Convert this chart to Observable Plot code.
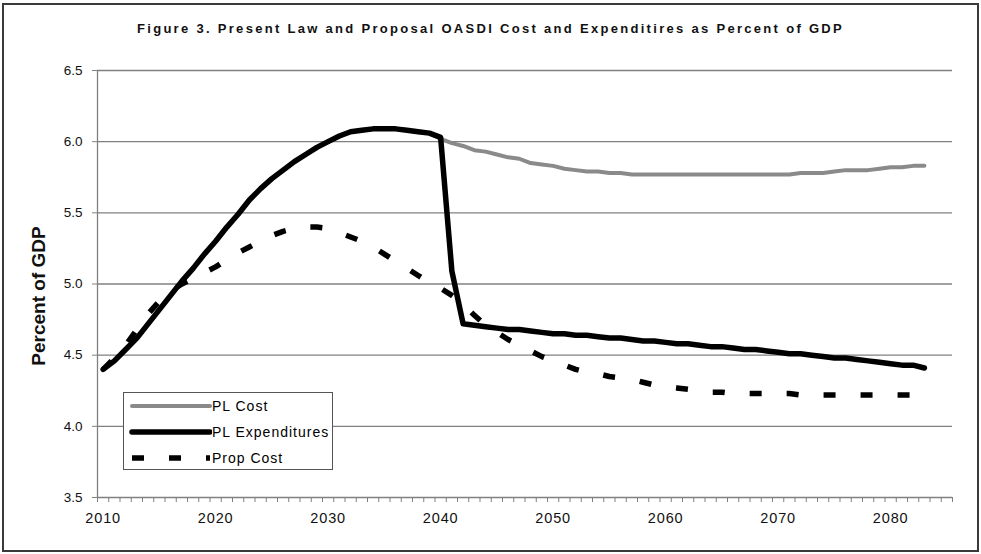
<!DOCTYPE html>
<html>
<head>
<meta charset="utf-8">
<script src="https://cdn.jsdelivr.net/npm/d3@7"></script>
<script src="https://cdn.jsdelivr.net/npm/@observablehq/plot@0.6"></script>
<style>
  body { margin: 0; background: #fff; font-family: Arial, "Liberation Sans", sans-serif; }
  #wrap { position: relative; width: 981px; height: 554px; overflow: hidden; background: #fff; }
  #frame { position: absolute; left: 2px; top: 3px; width: 973px; height: 545px; border: 2px solid #3a3a3a; }
  #title { position: absolute; left: 0; top: 0; width: 981px; height: 50px; text-align: center;
           font-weight: bold; font-size: 13px; letter-spacing: 2.3px; color: #111; line-height: 57px; white-space: nowrap; }
  #chart { position: absolute; left: 0; top: 50px; }
  #chart g[aria-label="x-axis tick label"] { letter-spacing: 0.9px; }
  #legend { position: absolute; left: 123px; top: 392px; width: 208px; height: 76px; border: 1px solid #555; background: #fff; }
  .lrow { position: absolute; left: 0; height: 18px; display: flex; align-items: center; font-size: 14px; letter-spacing: 1px; color: #000; white-space: nowrap; }
  .lrow svg { display: block; }
</style>
</head>
<body>
<div id="wrap">
  <div id="frame"></div>
  <div id="title"></div>
  <div id="chart"></div>
  <div id="legend"></div>
</div>
<script>
const titleText = "Figure 3. Present Law and Proposal OASDI Cost and Expenditires as Percent of GDP";
const yLabel = "Percent of GDP";
const seriesNames = ["PL Cost", "PL Expenditures", "Prop Cost"];

const years = d3.range(2010, 2084);

const plExpenditures = [
  4.40, 4.46, 4.54, 4.62, 4.72, 4.82, 4.92, 5.02, 5.11, 5.21,
  5.30, 5.40, 5.49, 5.59, 5.67, 5.74, 5.80, 5.86, 5.91, 5.96,
  6.00, 6.04, 6.07, 6.08, 6.09, 6.09, 6.09, 6.08, 6.07, 6.06,
  6.03, 5.09, 4.72, 4.71, 4.70, 4.69, 4.68, 4.68, 4.67, 4.66,
  4.65, 4.65, 4.64, 4.64, 4.63, 4.62, 4.62, 4.61, 4.60, 4.60,
  4.59, 4.58, 4.58, 4.57, 4.56, 4.56, 4.55, 4.54, 4.54, 4.53,
  4.52, 4.51, 4.51, 4.50, 4.49, 4.48, 4.48, 4.47, 4.46, 4.45,
  4.44, 4.43, 4.43, 4.41
];

const plCost = [
  4.40, 4.46, 4.54, 4.62, 4.72, 4.82, 4.92, 5.02, 5.11, 5.21,
  5.30, 5.40, 5.49, 5.59, 5.67, 5.74, 5.80, 5.86, 5.91, 5.96,
  6.00, 6.04, 6.07, 6.08, 6.09, 6.09, 6.09, 6.08, 6.07, 6.06,
  6.02, 5.99, 5.97, 5.94, 5.93, 5.91, 5.89, 5.88, 5.85, 5.84,
  5.83, 5.81, 5.80, 5.79, 5.79, 5.78, 5.78, 5.77, 5.77, 5.77,
  5.77, 5.77, 5.77, 5.77, 5.77, 5.77, 5.77, 5.77, 5.77, 5.77,
  5.77, 5.77, 5.78, 5.78, 5.78, 5.79, 5.80, 5.80, 5.80, 5.81,
  5.82, 5.82, 5.83, 5.83
];

const propCost = [
  4.40, 4.48, 4.57, 4.68, 4.79, 4.88, 4.95, 5.00, 5.04, 5.08,
  5.12, 5.17, 5.22, 5.26, 5.30, 5.34, 5.37, 5.39, 5.40, 5.40,
  5.39, 5.36, 5.33, 5.30, 5.26, 5.21, 5.16, 5.11, 5.06, 5.01,
  4.97, 4.92, 4.86, 4.78, 4.71, 4.66, 4.61, 4.57, 4.53, 4.49,
  4.46, 4.43, 4.40, 4.38, 4.37, 4.35, 4.34, 4.33, 4.31, 4.29,
  4.28, 4.27, 4.26, 4.25, 4.24, 4.24, 4.23, 4.23, 4.23, 4.23,
  4.23, 4.23, 4.22, 4.22, 4.22, 4.22, 4.22, 4.22, 4.22, 4.22,
  4.22, 4.22, 4.22, 4.23
];

const yTicks = [3.5, 4.0, 4.5, 5.0, 5.5, 6.0, 6.5];
const xLabelYears = [2010, 2020, 2030, 2040, 2050, 2060, 2070, 2080];
const xTickMarks = d3.range(2009.5, 2086, 1);

const toRows = (vals) => years.map((yr, i) => ({ year: yr, value: vals[i] }));

document.getElementById("title").textContent = titleText;

const gray = "#808080";
const chart = Plot.plot({
  width: 981,
  height: 504,
  marginTop: 20,
  marginBottom: 57,
  marginLeft: 97,
  marginRight: 29,
  style: { fontFamily: 'Arial, "Liberation Sans", sans-serif', fontSize: "13px", color: "#111", background: "transparent", overflow: "visible" },
  x: { domain: [2009.5, 2085.5] },
  y: { domain: [3.5, 6.5] },
  marks: [
    Plot.gridY(yTicks, { stroke: gray, strokeOpacity: 1, strokeWidth: 1.3 }),
    Plot.ruleX([2009.5], { stroke: gray, strokeWidth: 1.3 }),
    Plot.axisY(yTicks, { tickFormat: d => d.toFixed(1), tickSize: 5, tickPadding: 10, stroke: gray, fontSize: 13.5, label: null }),
    Plot.axisX(xTickMarks, { tickSize: 5, tickFormat: () => "", stroke: gray, label: null }),
    Plot.axisX(xLabelYears, { tickSize: 0, tickPadding: 15, tickFormat: d => String(d), label: null, fontSize: 14.5 }),
    Plot.text([yLabel], { frameAnchor: "left", textAnchor: "middle", lineAnchor: "middle", rotate: -90, dx: -59, dy: 12, fontWeight: "bold", fontSize: 19, fill: "#111" }),
    Plot.line(toRows(plCost), { x: "year", y: "value", stroke: "#8a8a8a", strokeWidth: 4, strokeLinecap: "round", strokeLinejoin: "round" }),
    Plot.line(toRows(plExpenditures), { x: "year", y: "value", stroke: "#000", strokeWidth: 5.5, strokeLinecap: "round", strokeLinejoin: "round" }),
    Plot.line(toRows(propCost), { x: "year", y: "value", stroke: "#000", strokeWidth: 5.5, strokeDasharray: "12,25", strokeLinecap: "butt" })
  ]
});
document.getElementById("chart").appendChild(chart);

// legend
const legendStyles = [
  { stroke: "#8a8a8a", width: 4, dash: null, cap: "round" },
  { stroke: "#000", width: 5.5, dash: null, cap: "round" },
  { stroke: "#000", width: 5.5, dash: "12,25", cap: "butt" }
];
const legend = document.getElementById("legend");
seriesNames.forEach((name, i) => {
  const row = document.createElement("div");
  row.className = "lrow";
  row.style.top = (13 + 26 * i - 9) + "px";
  const s = legendStyles[i];
  const svg = d3.create("svg").attr("width", 88).attr("height", 18);
  svg.append("line").attr("x1", 8).attr("x2", 86).attr("y1", 9).attr("y2", 9)
    .attr("stroke", s.stroke).attr("stroke-width", s.width).attr("stroke-linecap", s.cap)
    .attr("stroke-dasharray", s.dash);
  row.appendChild(svg.node());
  const t = document.createElement("span");
  t.textContent = name;
  row.appendChild(t);
  legend.appendChild(row);
});
</script>
</body>
</html>
